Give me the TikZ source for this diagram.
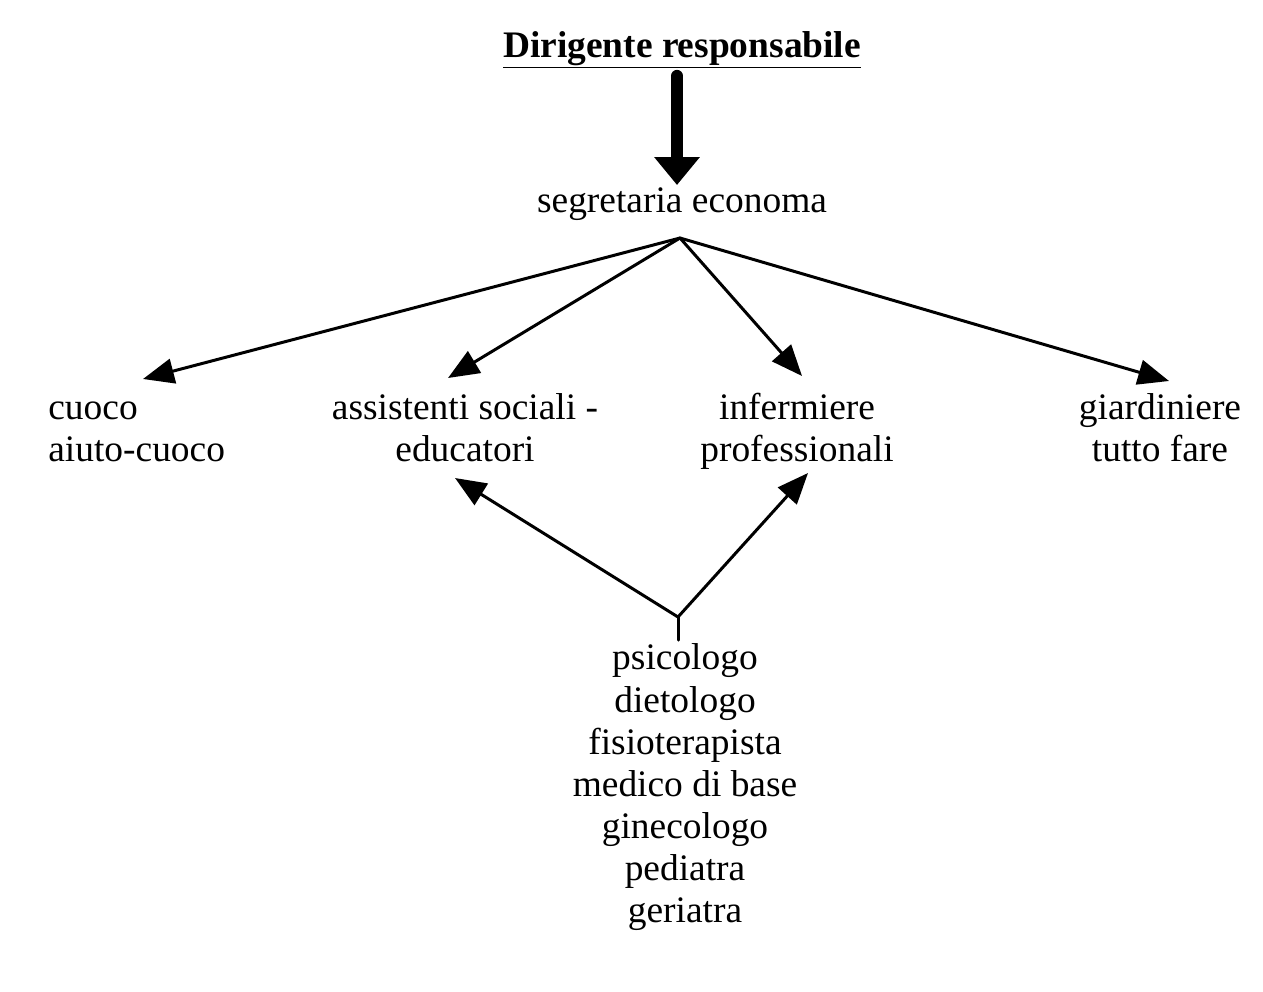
\documentclass[tikz,border=0pt]{standalone}
\usepackage{fontspec}
\setmainfont{Liberation Serif}
\usetikzlibrary{arrows.meta,calc}
\begin{document}
\begin{tikzpicture}[x=0.02cm,y=-0.02cm,line cap=round,line join=round,
  txt/.style={inner sep=0pt,align=center,font=\fontsize{21.3}{24}\selectfont},
  link/.style={line width=1.7pt,-{Triangle[length=0.62cm,width=0.5cm]}}]
  \useasboundingbox (0,0) rectangle (1263,991);
  % nodes
  \node[txt,font=\fontsize{21.3}{24}\selectfont\bfseries] (dir) at (682,50) {\underline{Dirigente responsabile}};
  \node[txt] (seg) at (682,204) {segretaria economa};
  \node[txt,align=left,anchor=west] (cuoco) at (48,432) {\strut cuoco\\aiuto-cuoco\strut};
  \node[txt] (ass) at (465,432) {\strut assistenti sociali -\\educatori\strut};
  \node[txt] (inf) at (797,432) {\strut infermiere\\professionali\strut};
  \node[txt] (giar) at (1160,432) {\strut giardiniere\\tutto fare\strut};
  \node[txt,anchor=north] (spec) at (685,640) {\strut psicologo\\dietologo\\fisioterapista\\medico di base\\ginecologo\\pediatra\\geriatra\strut};
  % split points and tips
  \coordinate (top) at (680,238);
  \coordinate (low) at (678,617);
  \coordinate (tcuoco) at (143,379);
  \coordinate (tass) at (448,378);
  \coordinate (tinf) at (802,376);
  \coordinate (tgiar) at (1169,381);
  \coordinate (bass) at (455,478);
  \coordinate (binf) at (808,473);
  % arrows
  \draw[line width=7pt,-{Triangle[length=0.56cm,width=0.88cm]}] (677,76) -- (677,185);
  \draw[link] (top) -- (tcuoco);
  \draw[link] (top) -- (tass);
  \draw[link] (top) -- (tinf);
  \draw[link] (top) -- (tgiar);
  \draw[link] (low) -- (bass);
  \draw[link] (low) -- (binf);
  \draw[line width=1.7pt] (low) -- (low |- spec.north);
\end{tikzpicture}
\end{document}
